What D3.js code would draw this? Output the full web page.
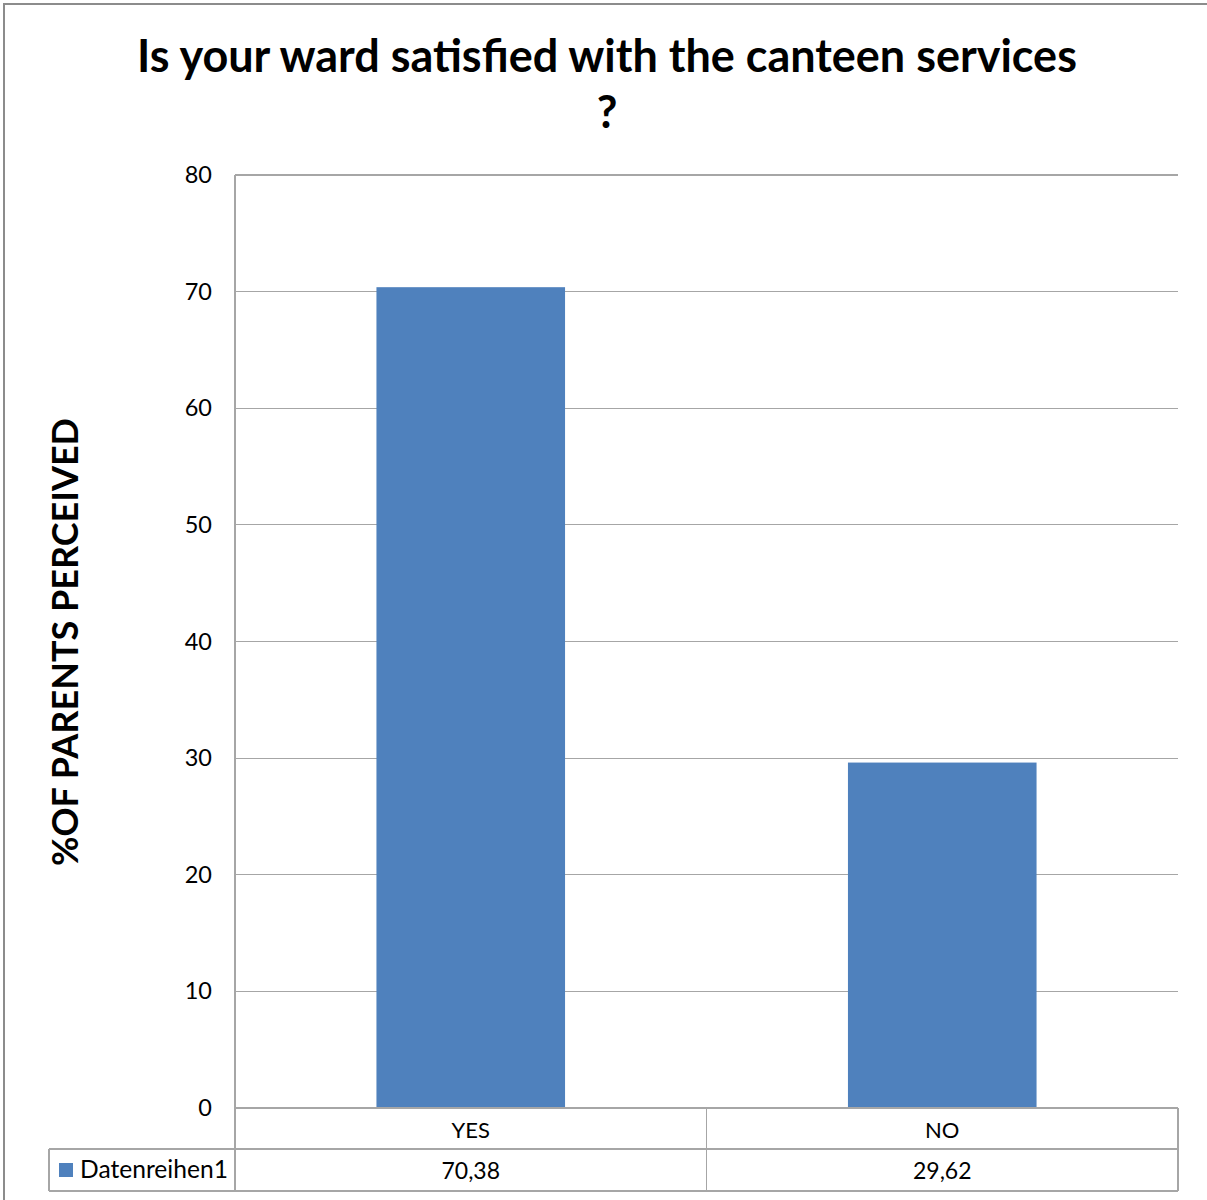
<!DOCTYPE html>
<html><head><meta charset="utf-8">
<script src="https://cdn.jsdelivr.net/npm/d3@7"></script>
<style>body{margin:0;background:#fff}svg{display:block}text{font-family:Lato,"Open Sans",sans-serif}</style>
</head><body>
<script>
const categories = ["YES", "NO"];
const values = [70.38, 29.62];
const valueLabels = ["70,38", "29,62"];
const seriesName = "Datenreihen1";
const yTicks = [0, 10, 20, 30, 40, 50, 60, 70, 80];
const titleLines = ["Is your ward satisfied with the canteen services", "?"];
const yTitle = "%OF PARENTS PERCEIVED";

const W = 1207, H = 1200;
const svg = d3.select("body").append("svg").attr("width", W).attr("height", H);
const L = 235, R = 1178, T = 175, B = 1108;
const row1 = 1149, row2 = 1191, legL = 49;
const grid = "#a6a6a6";

svg.append("rect").attr("x", 4).attr("y", 4).attr("width", 1250).attr("height", 1250)
  .attr("fill", "none").attr("stroke", "#8c8c8c").attr("stroke-width", 2);

const x = d3.scaleBand().domain(categories).range([L, R]).paddingInner(0.6).paddingOuter(0.3);
const xc = d3.scaleBand().domain(categories).range([L, R]);
const y = d3.scaleLinear().domain([0, 80]).range([B, T]);

// gridlines
svg.append("g").selectAll("line").data(yTicks.filter(d => d > 0)).join("line")
  .attr("x1", L).attr("x2", R).attr("y1", d => y(d)).attr("y2", d => y(d))
  .attr("stroke", grid).attr("stroke-width", 1.2).attr("shape-rendering", "crispEdges");

// bars
svg.append("g").selectAll("rect").data(values).join("rect")
  .attr("x", (d, i) => x(categories[i])).attr("width", x.bandwidth())
  .attr("y", d => y(d)).attr("height", d => y(0) - y(d)).attr("fill", "#4f81bd");

// y axis
const yAxis = d3.axisLeft(y).tickValues(yTicks).tickSize(0).tickPadding(23);
const gy = svg.append("g").attr("transform", `translate(${L},0)`).call(yAxis);
gy.select(".domain").remove();
gy.selectAll(".tick line").remove();
gy.selectAll(".tick text").attr("font-size", 23.5).attr("fill", "#000").attr("font-family", "Lato");

// table lines
const lines = [
  [L, T, L, row2], [L, B, R, B], [legL, row1, R, row1], [legL, row2, R, row2],
  [legL, row1, legL, row2], [R, B, R, row2]
];
categories.forEach((c, i) => { if (i > 0) lines.push([xc(c), B, xc(c), row2]); });
svg.append("g").selectAll("line").data(lines).join("line")
  .attr("x1", d => d[0]).attr("y1", d => d[1]).attr("x2", d => d[2]).attr("y2", d => d[3])
  .attr("stroke", grid).attr("stroke-width", 1.5).attr("shape-rendering", "crispEdges");

// category labels and values
svg.append("g").selectAll("text").data(categories).join("text")
  .attr("x", d => xc(d) + xc.bandwidth() / 2).attr("y", 1138)
  .attr("text-anchor", "middle").attr("font-size", 22).text(d => d);
svg.append("g").selectAll("text").data(valueLabels).join("text")
  .attr("x", (d, i) => xc(categories[i]) + xc.bandwidth() / 2).attr("y", 1179)
  .attr("text-anchor", "middle").attr("font-size", 23).text(d => d);

// legend
svg.append("rect").attr("x", 59).attr("y", 1163).attr("width", 14).attr("height", 14).attr("fill", "#4f81bd");
const lt = svg.append("text").attr("x", 80).attr("y", 1178).attr("font-size", 22).text(seriesName);
lt.attr("font-size", 22 * 148 / lt.node().getComputedTextLength());

// title
const t1 = svg.append("text").attr("x", 607).attr("y", 72).attr("text-anchor", "middle")
  .attr("font-weight", "bold").attr("font-size", 40).text(titleLines[0]);
const w1 = t1.node().getComputedTextLength();
const fs = 40 * 940 / w1;
t1.attr("font-size", fs);
svg.append("text").attr("x", 607).attr("y", 128).attr("text-anchor", "middle")
  .attr("font-weight", "bold").attr("font-size", fs).text(titleLines[1]);

// y title
const yt = svg.append("text").attr("transform", "translate(78,642) rotate(-90)")
  .attr("text-anchor", "middle").attr("font-weight", "bold").attr("font-size", 30).text(yTitle);
const wy = yt.node().getComputedTextLength();
yt.attr("font-size", 30 * 448 / wy);
</script>
</body></html>
